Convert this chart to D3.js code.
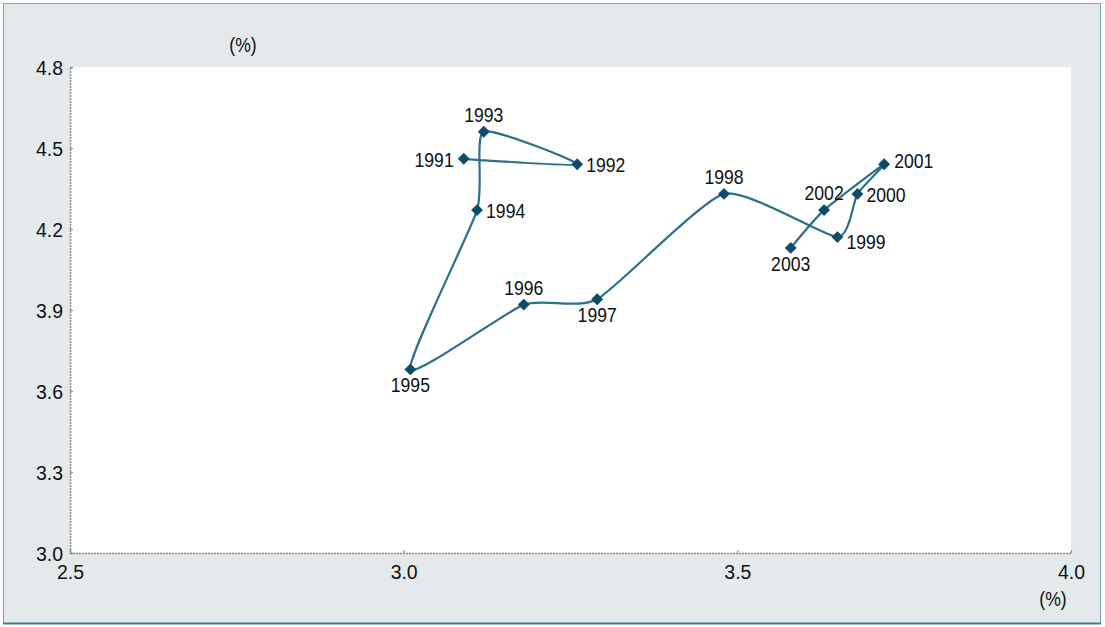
<!DOCTYPE html>
<html><head><meta charset="utf-8">
<script src="https://cdn.jsdelivr.net/npm/d3@7"></script>
<style>
html,body{margin:0;padding:0;background:#fff;}
svg{display:block;font-family:"Liberation Sans",Arial,sans-serif;}
</style></head>
<body>
<svg id="c" width="1105" height="627"></svg>
<script>
const years = [1991,1992,1993,1994,1995,1996,1997,1998,1999,2000,2001,2002,2003];
const xValues = [3.09,3.26,3.12,3.11,3.01,3.18,3.29,3.48,3.65,3.68,3.72,3.63,3.58];
const yValues = [4.46,4.44,4.56,4.27,3.68,3.92,3.94,4.33,4.17,4.33,4.44,4.27,4.13];
const labelPos = ["left","right","top","right","bottom","top","bottom","top","rightbelow","right","rightup","top","bottom"];
const xTicks = [2.5,3.0,3.5,4.0];
const yTicks = [3.0,3.3,3.6,3.9,4.2,4.5,4.8];

const svg = d3.select("#c");
const W = 1105, H = 627;
svg.append("rect").attr("x",0).attr("y",0).attr("width",W).attr("height",H).attr("fill","#fff");
svg.append("rect").attr("x",3.5).attr("y",3.5).attr("width",1097).attr("height",620)
  .attr("fill","#e4eaec").attr("stroke","#7fa6b2").attr("stroke-width",1);
svg.append("line").attr("x1",3).attr("x2",1101).attr("y1",623.5).attr("y2",623.5).attr("stroke","#3d7a8e").attr("stroke-width",2);

const L=70,R=1071,T=67,B=553;
const x = d3.scaleLinear().domain([2.5,4.0]).range([L,R]);
const y = d3.scaleLinear().domain([3.0,4.8]).range([B,T]);

svg.append("rect").attr("x",L).attr("y",T).attr("width",R-L).attr("height",B-T).attr("fill","#fff");

const FS = 20.5, SX = 0.86, TSX = 0.95;

// axes
const yAxis = d3.axisLeft(y).tickValues(yTicks).tickFormat(d3.format(".1f")).tickSize(-3).tickPadding(7);
const gy = svg.append("g").attr("transform",`translate(${L},0)`).call(yAxis);
const xAxis = d3.axisBottom(x).tickValues(xTicks).tickFormat(d3.format(".1f")).tickSize(-3).tickPadding(11);
const gx = svg.append("g").attr("transform",`translate(0,${B})`).call(xAxis);
[gx,gy].forEach(g=>{
  g.attr("font-size",null).attr("font-family",null);
  g.select(".domain").attr("stroke","#8a8a8a").attr("stroke-width",1.5).attr("stroke-dasharray","2,1");
  g.selectAll(".tick line").attr("stroke","#8a8a8a");
  g.selectAll("text").attr("fill","#111").attr("font-size",FS).attr("font-family","Liberation Sans, Arial, sans-serif");
});
gy.selectAll(".tick text").attr("dy","0.35em").attr("x",-7/TSX).attr("transform",`scale(${TSX},1)`);
gx.selectAll(".tick text").attr("dy","0.71em").attr("transform",`scale(${TSX},1)`);

function stext(px,py,anchor,str){
  return svg.append("text").attr("transform",`translate(${px},${py}) scale(${SX},1)`)
    .attr("text-anchor",anchor).attr("font-size",FS).attr("fill","#111").text(str);
}
stext(243,52,"middle","(%)");
stext(1053,606,"middle","(%)");

const pts = years.map((yr,i)=>({yr, x:xValues[i], y:yValues[i], pos:labelPos[i]}));

const line = d3.line().x(d=>x(d.x)).y(d=>y(d.y)).curve(d3.curveCardinal.tension(0.45));
svg.append("path").datum(pts).attr("d",line).attr("fill","none")
  .attr("stroke","#2e6f8a").attr("stroke-width",2.2);

const sym = d3.symbol().type(d3.symbolDiamond2).size(90);
svg.selectAll("path.m").data(pts).join("path").attr("class","m")
  .attr("d",sym).attr("transform",d=>`translate(${x(d.x)},${y(d.y)})`).attr("fill","#0e4d6a");

const off = {
  left:{dx:-10,dy:8,a:"end"}, right:{dx:9,dy:8,a:"start"}, rightup:{dx:10,dy:4,a:"start"},
  top:{dx:0,dy:-10,a:"middle"}, bottom:{dx:0,dy:23,a:"middle"}, rightbelow:{dx:9,dy:12,a:"start"}
};
pts.forEach(d=>{
  const o = off[d.pos];
  stext(x(d.x)+o.dx, y(d.y)+o.dy, o.a, d.yr).attr("class","lbl");
});
</script>
</body></html>
